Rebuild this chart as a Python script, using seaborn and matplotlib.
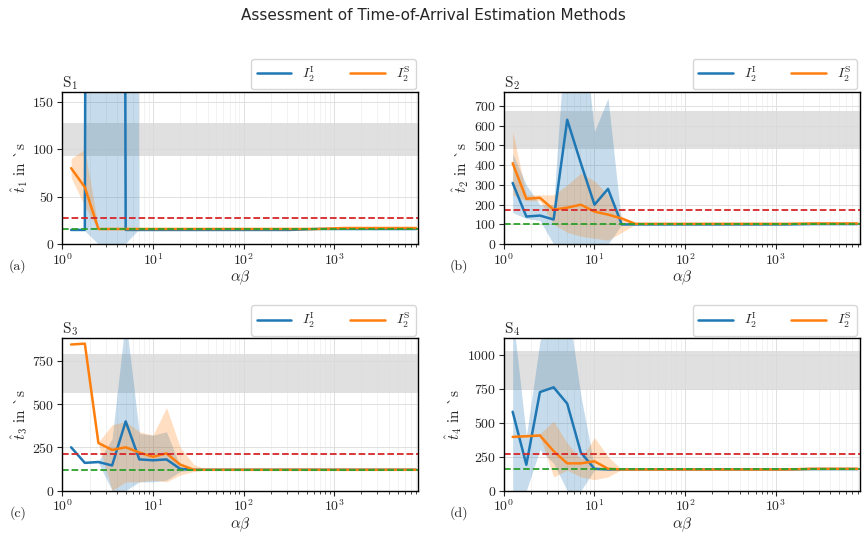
import numpy as np
import pandas as pd
import matplotlib.pyplot as plt
import seaborn as sns

sns.set_style("ticks")
plt.rcParams["font.family"] = ["serif"]
plt.rcParams["font.serif"] = ["cmr10", "DejaVu Serif"]
plt.rcParams["mathtext.fontset"] = "cm"
plt.rcParams["axes.formatter.use_mathtext"] = True

ab = [1.25, 1.77, 2.5, 3.54, 5, 7.07, 10, 14.1, 20, 28.3, 40, 80, 160, 320, 640, 1280, 2560, 5120, 8000]

# S1
s1_i = [15, 15, 5000, 5000, 15, 15, 15, 15, 15, 15, 15, 15, 15, 15, 16, 16, 16, 16, 16]
s1_i_lo = [14, 14, 0, 0, 0, 15, 15, 15, 15, 15, 15, 15, 15, 15, 16, 16, 16, 16, 16]
s1_i_hi = [16, 16, 9000, 9000, 9000, 16, 16, 16, 16, 16, 16, 16, 16, 16, 16, 16, 16, 16, 16]
s1_s = [80, 60, 16, 16, 16, 16, 16, 16, 16, 16, 16, 16, 16, 16, 16, 17, 17, 17, 17]
s1_s_lo = [70, 40, 15, 15, 15, 15, 15, 15, 15, 15, 15, 15, 15, 15, 16, 16, 16, 16, 16]
s1_s_hi = [90, 100, 17, 17, 17, 17, 17, 17, 17, 17, 17, 17, 17, 17, 17, 18, 18, 18, 18]

# S2
s2_i = [310, 140, 145, 125, 630, 410, 200, 280, 100, 100, 100, 100, 100, 100, 100, 100, 102, 102, 102]
s2_i_lo = [160, 130, 120, 0, 0, 0, 0, 0, 100, 100, 100, 100, 100, 100, 100, 100, 100, 100, 100]
s2_i_hi = [460, 300, 200, 200, 1200, 1200, 570, 740, 100, 100, 100, 100, 100, 100, 100, 100, 104, 104, 104]
s2_s = [410, 230, 235, 175, 185, 200, 165, 150, 130, 103, 103, 103, 103, 103, 103, 103, 105, 105, 105]
s2_s_lo = [250, 220, 220, 100, 60, 40, 30, 20, 60, 100, 100, 100, 100, 100, 100, 100, 100, 100, 100]
s2_s_hi = [570, 250, 250, 250, 300, 360, 320, 250, 140, 106, 106, 106, 106, 106, 106, 106, 110, 110, 110]

# S3
s3_i = [250, 160, 165, 145, 400, 180, 175, 180, 125, 120, 120, 120, 120, 120, 120, 120, 120, 120, 120]
s3_i_lo = [250, 160, 160, 0, 0, 50, 50, 60, 110, 120, 120, 120, 120, 120, 120, 120, 120, 120, 120]
s3_i_hi = [250, 160, 170, 300, 1000, 330, 320, 340, 140, 120, 120, 120, 120, 120, 120, 120, 120, 120, 120]
s3_s = [845, 850, 275, 235, 250, 220, 195, 215, 150, 120, 120, 120, 120, 120, 120, 120, 120, 120, 120]
s3_s_lo = [845, 850, 270, 0, 50, 50, 60, 50, 90, 110, 120, 120, 120, 120, 120, 120, 120, 120, 120]
s3_s_hi = [845, 850, 280, 380, 400, 340, 320, 480, 250, 150, 120, 120, 120, 120, 120, 120, 120, 120, 120]

# S4
s4_i = [580, 190, 725, 760, 640, 280, 160, 155, 155, 155, 155, 155, 155, 155, 155, 155, 158, 158, 158]
s4_i_lo = [0, 0, 300, 200, 0, 0, 150, 155, 155, 155, 155, 155, 155, 155, 155, 155, 155, 155, 155]
s4_i_hi = [1300, 400, 1100, 1400, 1400, 700, 170, 155, 155, 155, 155, 155, 155, 155, 155, 155, 160, 160, 160]
s4_s = [395, 400, 405, 290, 200, 200, 215, 160, 155, 155, 155, 155, 155, 155, 155, 155, 160, 160, 160]
s4_s_lo = [390, 395, 400, 100, 150, 100, 80, 100, 155, 155, 155, 155, 155, 155, 155, 155, 155, 155, 155]
s4_s_hi = [400, 410, 420, 510, 350, 230, 390, 250, 155, 155, 155, 155, 155, 155, 155, 155, 165, 165, 165]

panels = [
    ("S_1", "(a)", 160, [0, 50, 100, 150], (93, 128), 28, 16, s1_i, s1_i_lo, s1_i_hi, s1_s, s1_s_lo, s1_s_hi),
    ("S_2", "(b)", 770, [0, 100, 200, 300, 400, 500, 600, 700], (480, 675), 175, 103, s2_i, s2_i_lo, s2_i_hi, s2_s, s2_s_lo, s2_s_hi),
    ("S_3", "(c)", 880, [0, 250, 500, 750], (565, 790), 210, 120, s3_i, s3_i_lo, s3_i_hi, s3_s, s3_s_lo, s3_s_hi),
    ("S_4", "(d)", 1120, [0, 250, 500, 750, 1000], (740, 1030), 270, 155, s4_i, s4_i_lo, s4_i_hi, s4_s, s4_s_lo, s4_s_hi),
]

fig, axes = plt.subplots(2, 2, figsize=(8.66, 5.42), dpi=100)
fig.suptitle("Assessment of Time-of-Arrival Estimation Methods", family="DejaVu Sans", fontsize=11, y=0.985)

for k, (ax, p) in enumerate(zip(axes.flat, panels)):
    name, lab, ymax, yt, grey, red, green, yi, yilo, yihi, ys, yslo, yshi = p
    ax.axhspan(grey[0], grey[1], color="0.85", alpha=0.8, lw=0)
    ax.fill_between(ab, yilo, yihi, color="C0", alpha=0.25, lw=0)
    ax.fill_between(ab, yslo, yshi, color="C1", alpha=0.25, lw=0)
    df = pd.DataFrame({"ab": ab, "I": yi, "S": ys})
    sns.lineplot(data=df, x="ab", y="I", ax=ax, color="C0", lw=1.8, label=r"$I_2^{\mathrm{I}}$")
    sns.lineplot(data=df, x="ab", y="S", ax=ax, color="C1", lw=1.8, label=r"$I_2^{\mathrm{S}}$")
    ax.axhline(red, color="C3", ls="--", lw=1.3)
    ax.axhline(green, color="C2", ls="--", lw=1.3)
    ax.set_xscale("log")
    ax.set_xlim(1, 8500)
    ax.set_ylim(0, ymax)
    ax.set_yticks(yt)
    ax.grid(True, which="major", color="0.88", lw=0.7)
    ax.grid(True, which="minor", color="0.93", lw=0.5)
    for s in ax.spines.values():
        s.set_color("black")
        s.set_linewidth(1.0)
    ax.set_xlabel(r"$\alpha\beta$", fontsize=11, labelpad=1)
    ax.set_ylabel(r"$\hat{t}_%d$ in µs" % (k + 1), fontsize=11, labelpad=2)
    ax.set_title(r"$\mathrm{%s}$" % name, loc="left", fontsize=11, pad=3)
    ax.tick_params(labelsize=10, pad=2)
    ax.legend(ncol=2, loc="lower right", bbox_to_anchor=(1.0, 1.0), fontsize=10,
              handlelength=2.5, columnspacing=2.5, borderaxespad=0.2)
    ax.text(-0.1, -0.17, lab, transform=ax.transAxes, fontsize=10, ha="right")

fig.subplots_adjust(left=0.072, right=0.993, top=0.83, bottom=0.095, wspace=0.24, hspace=0.62)
fig.savefig("out.png", dpi=100)
